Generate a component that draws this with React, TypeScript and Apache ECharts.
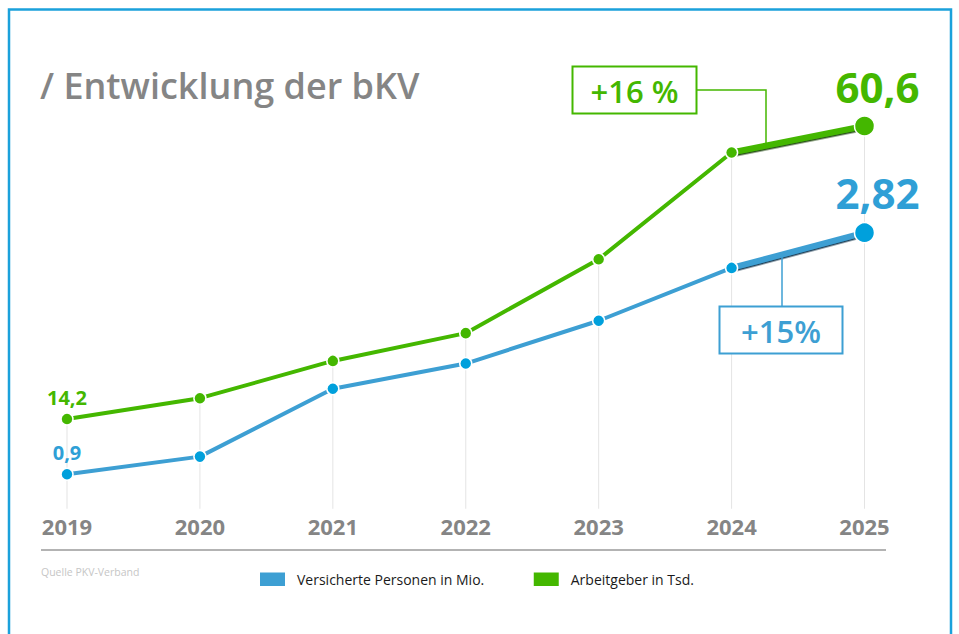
import React, { useEffect, useRef } from "react";
import * as echarts from "echarts";

const years = ["2019", "2020", "2021", "2022", "2023", "2024", "2025"];
const versicherte = [0.9, 1.04, 1.58, 1.78, 2.12, 2.54, 2.82];
const arbeitgeber = [14.2, 17.5, 23.4, 27.8, 39.5, 56.4, 60.6];
const seriesNames = ["Versicherte Personen in Mio.", "Arbeitgeber in Tsd."];
const growthLabels = { versicherte: "+15%", arbeitgeber: "+16 %" };
const titleText = "/ Entwicklung der bKV";
const sourceText = "Quelle PKV-Verband";

const FONT = "'Open Sans', 'Noto Sans', sans-serif";
const GREEN = "#44b700";
const BLUE_LINE = "#3d9fd3";
const BLUE_DOT = "#00a0dc";
const GRAY = "#858585";

const fmt = (v: number) => String(v).replace(".", ",");

function pointData(values: number[], color: string, smallSize: number, bigSize: number) {
  const last = values.length - 1;
  return values.map((v, i) => {
    if (i === 0) {
      return {
        value: v,
        symbolSize: 12,
        label: {
          show: true,
          position: "top",
          distance: 5,
          formatter: () => fmt(v),
          color,
          fontSize: smallSize,
          fontWeight: "bold",
          fontFamily: FONT,
        },
      };
    }
    if (i === last) {
      return {
        value: v,
        symbolSize: 20,
        label: {
          show: true,
          position: "top",
          distance: 8,
          offset: [13, 0],
          formatter: () => fmt(v),
          color,
          fontSize: bigSize,
          fontWeight: "bold",
          fontFamily: FONT,
        },
      };
    }
    return { value: v, symbolSize: 12 };
  });
}

function lastSegment(values: number[]) {
  return values.map((v, i) => (i >= values.length - 2 ? v : null));
}

export default function App() {
  const ref = useRef<HTMLDivElement>(null);

  useEffect(() => {
    if (!ref.current) return;
    const chart = echarts.init(ref.current, null, { renderer: "svg" });

    const option: any = {
      animation: false,
      backgroundColor: "#ffffff",
      textStyle: { fontFamily: FONT },
      grid: { left: 67, right: 94.5, top: 66.65, bottom: 125.3 },
      legend: {
        data: [
          { name: seriesNames[0], itemStyle: { color: BLUE_LINE } },
          { name: seriesNames[1], itemStyle: { color: GREEN } },
        ],
        icon: "rect",
        itemWidth: 27,
        itemHeight: 15.5,
        itemGap: 47.5,
        left: 258,
        top: 570.5,
        padding: 0,
        selectedMode: false,
        textStyle: {
          fontSize: 14,
          color: "#1a1a1a",
          fontFamily: FONT,
          padding: [4, 0, 0, 6],
        },
      },
      xAxis: {
        type: "category",
        data: years,
        boundaryGap: false,
        axisLine: { show: false },
        axisTick: { show: false },
        splitLine: { show: false },
        axisLabel: {
          color: GRAY,
          fontSize: 22,
          fontWeight: "bold",
          fontFamily: FONT,
          margin: 6,
        },
      },
      yAxis: [
        { type: "value", min: 0, max: 70, show: false },
        { type: "value", min: 0.626, max: 4.14, show: false },
      ],
      series: [
        {
          name: "_grid",
          type: "bar",
          yAxisIndex: 0,
          data: arbeitgeber,
          barWidth: 1,
          silent: true,
          z: 0,
          itemStyle: { color: "#e4e4e4" },
        },
        {
          name: "_blueLast",
          type: "line",
          yAxisIndex: 1,
          data: lastSegment(versicherte),
          symbol: "none",
          silent: true,
          z: 2,
          lineStyle: {
            width: 6,
            color: BLUE_LINE,
            shadowColor: "#1d3d55",
            shadowBlur: 0,
            shadowOffsetY: 1.5,
          },
        },
        {
          name: "_greenLast",
          type: "line",
          yAxisIndex: 0,
          data: lastSegment(arbeitgeber),
          symbol: "none",
          silent: true,
          z: 2,
          lineStyle: {
            width: 6,
            color: GREEN,
            shadowColor: "#264d12",
            shadowBlur: 0,
            shadowOffsetY: 1.5,
          },
        },
        {
          name: seriesNames[0],
          type: "line",
          yAxisIndex: 1,
          data: pointData(versicherte, "#2f9fd6", 20, 42),
          symbol: "circle",
          z: 3,
          lineStyle: { width: 4, color: BLUE_LINE },
          itemStyle: { color: BLUE_DOT, borderColor: "#ffffff", borderWidth: 1.5 },
        },
        {
          name: seriesNames[1],
          type: "line",
          yAxisIndex: 0,
          data: pointData(arbeitgeber, GREEN, 20, 42),
          symbol: "circle",
          z: 3,
          lineStyle: { width: 4, color: GREEN },
          itemStyle: { color: GREEN, borderColor: "#ffffff", borderWidth: 1.5 },
        },
      ],
    };
    chart.setOption(option);

    const n = years.length;
    const interpY = (axis: number, values: number[], x: number) => {
      const a = chart.convertToPixel({ xAxisIndex: 0, yAxisIndex: axis }, [n - 2, values[n - 2]]) as number[];
      const b = chart.convertToPixel({ xAxisIndex: 0, yAxisIndex: axis }, [n - 1, values[n - 1]]) as number[];
      const t = (x - a[0]) / (b[0] - a[0]);
      return a[1] + t * (b[1] - a[1]);
    };
    const gx = 766;
    const bx = 782;
    const gy = interpY(0, arbeitgeber, gx);
    const by = interpY(1, versicherte, bx);

    chart.setOption({
      graphic: [
        {
          type: "rect",
          silent: true,
          shape: { x: 9, y: 9.5, width: 942, height: 700 },
          style: { fill: "none", stroke: "#1ba1db", lineWidth: 2.5 },
        },
        {
          type: "text",
          x: 40,
          y: 85,
          style: {
            text: titleText,
            fill: GRAY,
            fontSize: 36,
            fontWeight: 600,
            fontFamily: FONT,
            textVerticalAlign: "middle",
          },
        },
        {
          type: "line",
          shape: { x1: 41, y1: 550, x2: 886, y2: 550 },
          style: { stroke: "#b3b3b3", lineWidth: 2 },
        },
        {
          type: "text",
          x: 41,
          y: 572,
          style: {
            text: sourceText,
            fill: "#c6c6c6",
            fontSize: 10.5,
            fontFamily: FONT,
            textVerticalAlign: "middle",
          },
        },
        {
          type: "polyline",
          shape: { points: [[697, 90], [gx, 90], [gx, gy]] },
          style: { fill: "none", stroke: GREEN, lineWidth: 1.5 },
          z: 10,
        },
        {
          type: "rect",
          shape: { x: 572.5, y: 66.5, width: 124, height: 47 },
          style: { fill: "#ffffff", stroke: GREEN, lineWidth: 2 },
          z: 10,
        },
        {
          type: "text",
          x: 634.5,
          y: 91,
          z: 11,
          style: {
            text: growthLabels.arbeitgeber,
            fill: GREEN,
            fontSize: 31,
            fontWeight: 600,
            fontFamily: FONT,
            textAlign: "center",
            textVerticalAlign: "middle",
          },
        },
        {
          type: "line",
          shape: { x1: bx, y1: 306, x2: bx, y2: by },
          style: { stroke: BLUE_LINE, lineWidth: 1.5 },
          z: 10,
        },
        {
          type: "rect",
          shape: { x: 719.5, y: 306.5, width: 123, height: 47 },
          style: { fill: "#ffffff", stroke: BLUE_LINE, lineWidth: 2 },
          z: 10,
        },
        {
          type: "text",
          x: 781,
          y: 331,
          z: 11,
          style: {
            text: growthLabels.versicherte,
            fill: BLUE_LINE,
            fontSize: 31,
            fontWeight: 600,
            fontFamily: FONT,
            textAlign: "center",
            textVerticalAlign: "middle",
          },
        },
      ],
    });

    return () => chart.dispose();
  }, []);

  return (
    <div
      ref={ref}
      style={{ position: "absolute", left: 0, top: 0, width: 959, height: 634 }}
    />
  );
}
